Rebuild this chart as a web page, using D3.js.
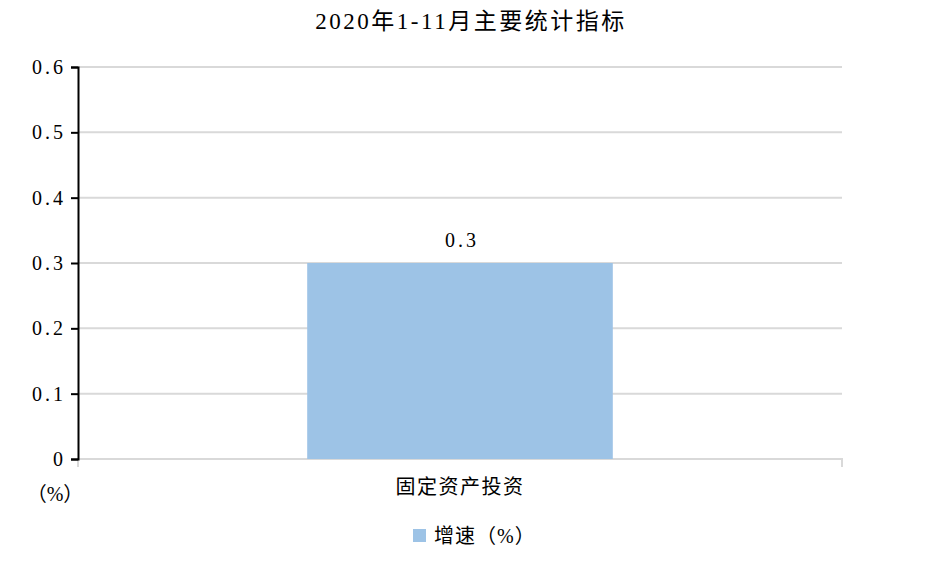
<!DOCTYPE html>
<html>
<head>
<meta charset="utf-8">
<script src="https://cdn.jsdelivr.net/npm/d3@7"></script>
<style>
  body { margin: 0; background: #fff; }
  text { font-family: "Liberation Serif", "Noto Sans CJK SC", serif; fill: #000; }
  .grid line { stroke: #d9d9d9; stroke-width: 2; }
</style>
</head>
<body>
<script>
// chart data
const categories = ["固定资产投资"];
const growth = [0.3];
const yTicks = [0, 0.1, 0.2, 0.3, 0.4, 0.5, 0.6];
const seriesName = "增速（%）";
const title = "2020年1-11月主要统计指标";

const w = 929;
const h = 569;
const plotLeft = 78, plotRight = 842, plotTop = 67, plotBottom = 459;

let svg = d3.select("body")
  .append("svg")
  .attr("width", w)
  .attr("height", h);

let yScale = d3.scaleLinear()
  .domain([0, 0.6])
  .range([plotBottom, plotTop]);

let xScale = d3.scaleBand()
  .domain(categories)
  .range([plotLeft, plotRight])
  .paddingInner(0.6)
  .paddingOuter(0.3);

// title
svg.append("text")
  .attr("x", 471)
  .attr("y", 29)
  .style("text-anchor", "middle")
  .style("font-size", "23px")
  .style("letter-spacing", "2.5px")
  .text(title);

// horizontal gridlines
svg.append("g")
  .attr("class", "grid")
  .selectAll("line")
  .data(yTicks.slice(1))
  .enter()
  .append("line")
  .attr("x1", plotLeft)
  .attr("x2", plotRight)
  .attr("y1", d => yScale(d))
  .attr("y2", d => yScale(d));

// x axis line with end ticks
svg.append("path")
  .attr("d", "M" + plotLeft + "," + (plotBottom + 8) + "V" + plotBottom + "H" + plotRight + "V" + (plotBottom + 8))
  .attr("fill", "none")
  .attr("stroke", "#d9d9d9")
  .attr("stroke-width", 2);

// bars
svg.selectAll("rect.bar")
  .data(growth)
  .enter()
  .append("rect")
  .attr("class", "bar")
  .attr("x", (d, i) => xScale(categories[i]))
  .attr("width", xScale.bandwidth())
  .attr("y", d => yScale(d))
  .attr("height", d => yScale(0) - yScale(d))
  .attr("fill", "#9dc3e6");

// bar value labels
svg.selectAll("text.val")
  .data(growth)
  .enter()
  .append("text")
  .attr("class", "val")
  .attr("x", (d, i) => xScale(categories[i]) + xScale.bandwidth() / 2 + 2)
  .attr("y", d => yScale(d) - 16)
  .style("text-anchor", "middle")
  .style("font-size", "20px")
  .style("letter-spacing", "3px")
  .text(d => d);

// y axis
let yAxis = d3.axisLeft(yScale)
  .tickValues(yTicks)
  .tickSize(7)
  .tickPadding(5)
  .tickFormat(d => d === 0 ? "0" : d3.format(".1f")(d));

let gy = svg.append("g")
  .attr("transform", "translate(" + plotLeft + ",0)")
  .call(yAxis);
gy.select(".domain").attr("stroke", "#000").attr("stroke-width", 2);
gy.selectAll(".tick line").attr("stroke", "#000").attr("stroke-width", 2);
gy.selectAll(".tick text")
  .style("font-size", "20px")
  .style("letter-spacing", "3px")
  .attr("fill", "#000");

// category labels
svg.selectAll("text.cat")
  .data(categories)
  .enter()
  .append("text")
  .attr("class", "cat")
  .attr("x", d => xScale(d) + xScale.bandwidth() / 2)
  .attr("y", 494)
  .style("text-anchor", "middle")
  .style("font-size", "20px")
  .style("letter-spacing", "1.5px")
  .text(d => d);

// unit label
svg.append("text")
  .attr("x", 55)
  .attr("y", 501)
  .style("text-anchor", "middle")
  .style("font-size", "20px")
  .text("（%）");

// legend
svg.append("rect")
  .attr("x", 413)
  .attr("y", 529)
  .attr("width", 13)
  .attr("height", 13)
  .attr("fill", "#9dc3e6");
svg.append("text")
  .attr("x", 434)
  .attr("y", 543)
  .style("font-size", "20px")
  .style("letter-spacing", "1px")
  .text(seriesName);
</script>
</body>
</html>
